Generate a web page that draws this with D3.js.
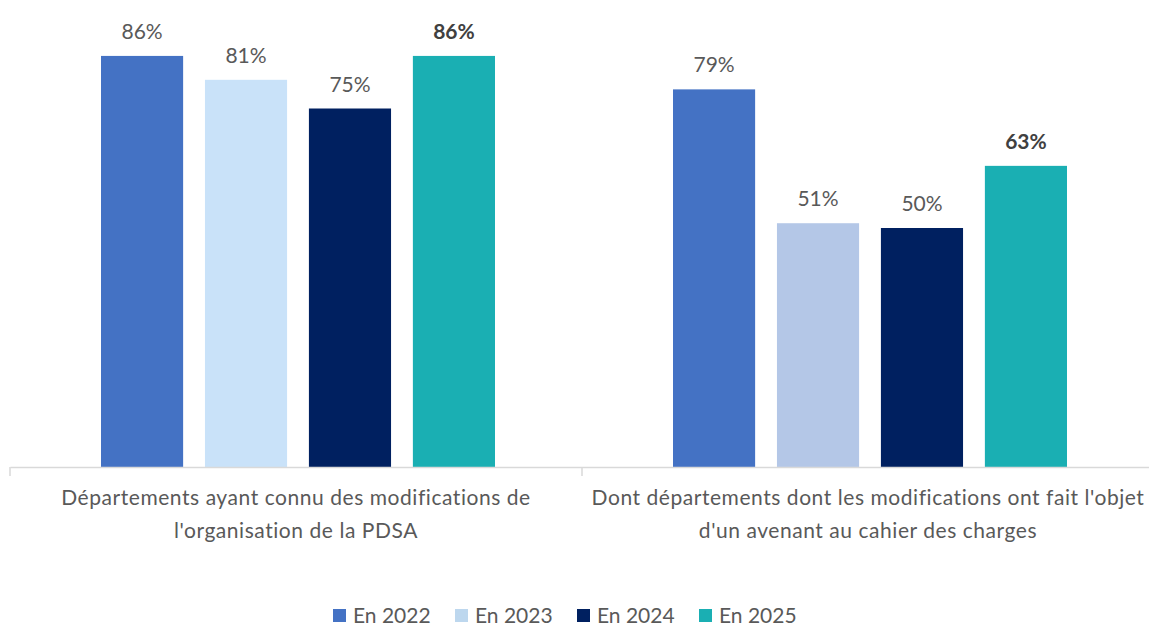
<!DOCTYPE html>
<html lang="fr">
<head>
<meta charset="utf-8">
<script src="https://cdn.jsdelivr.net/npm/d3@7"></script>
<style>
  html, body { margin: 0; padding: 0; background: #fff; }
  svg { display: block; font-family: Lato, "Open Sans", sans-serif; }
</style>
</head>
<body>
<svg id="chart" width="1149" height="625"></svg>
<script>
// Categories (each label split on two lines)
const categories = [
  ["Départements ayant connu des modifications de", "l'organisation de la PDSA"],
  ["Dont départements dont les modifications ont fait l'objet", "d'un avenant au cahier des charges"]
];
const seriesNames = ["En 2022", "En 2023", "En 2024", "En 2025"];
// Share of departments (%) per series, one value per category
const values2022 = [86, 79];
const values2023 = [81, 51];
const values2024 = [75, 50];
const values2025 = [86, 63];

// Styling
const seriesColors = ["#4472C4", "#BDD7EE", "#002060", "#1AAFB3"];
// 2023 bars are filled with a slightly different tint in each group
const barColorOverrides = { "En 2023": ["#C9E2F9", "#B4C7E7"] };
const boldSeries = "En 2025";

const valuesBySeries = [values2022, values2023, values2024, values2025];
const catKeys = categories.map((c, i) => "c" + i);

const rows = [];
catKeys.forEach((k, ci) => {
  seriesNames.forEach((s, si) => {
    rows.push({ cat: k, ci, series: s, si, value: valuesBySeries[si][ci] });
  });
});

const svg = d3.select("#chart");
const baseY = 467;

const x0 = d3.scaleBand().domain(catKeys).range([10, 1154]);
const x1 = d3.scaleBand().domain(seriesNames).range([91, 485]).paddingInner(0.21);
const y = d3.scaleLinear().domain([0, 100]).range([baseY, baseY - 478]);

// Bars
svg.append("g").selectAll("rect").data(rows).join("rect")
  .attr("x", d => x0(d.cat) + x1(d.series))
  .attr("y", d => y(d.value))
  .attr("width", x1.bandwidth())
  .attr("height", d => y(0) - y(d.value))
  .attr("fill", d => barColorOverrides[d.series] ? barColorOverrides[d.series][d.ci] : seriesColors[d.si]);

// Value labels
svg.append("g").selectAll("text").data(rows).join("text")
  .attr("x", d => x0(d.cat) + x1(d.series) + x1.bandwidth() / 2)
  .attr("y", d => y(d.value) - 17)
  .attr("text-anchor", "middle")
  .attr("font-size", 21)
  .attr("font-weight", d => d.series === boldSeries ? 700 : 400)
  .attr("fill", d => d.series === boldSeries ? "#404040" : "#595959")
  .text(d => d.value + "%");

// Category axis
const axis = svg.append("g").attr("transform", `translate(0,${baseY})`)
  .call(d3.axisBottom(x0).tickSize(0).tickFormat(""));
axis.select(".domain").attr("stroke", "#D9D9D9").attr("stroke-width", 1.5);
axis.selectAll(".tick").remove();
const boundaries = x0.domain().map(k => x0(k)).concat([x0.range()[1]]);
axis.selectAll("line.sep").data(boundaries).join("line")
  .attr("class", "sep")
  .attr("x1", d => d).attr("x2", d => d)
  .attr("y1", 0).attr("y2", 9)
  .attr("stroke", "#D9D9D9").attr("stroke-width", 1.5);

// Category labels
const catLabels = svg.append("g").selectAll("text").data(categories).join("text")
  .attr("x", (d, i) => x0(catKeys[i]) + x0.bandwidth() / 2)
  .attr("y", 505)
  .attr("text-anchor", "middle")
  .attr("font-size", 21)
  .attr("letter-spacing", 0.55)
  .attr("fill", "#595959");
catLabels.selectAll("tspan").data(d => d).join("tspan")
  .attr("x", function () { return d3.select(this.parentNode).attr("x"); })
  .attr("dy", (d, i) => i === 0 ? 0 : 33)
  .text(d => d);

// Legend
const legend = svg.append("g").attr("transform", "translate(333,609)");
const item = legend.selectAll("g").data(seriesNames).join("g")
  .attr("transform", (d, i) => `translate(${i * 122},0)`);
item.append("rect").attr("width", 13).attr("height", 13)
  .attr("fill", (d, i) => seriesColors[i]);
item.append("text").attr("x", 20).attr("y", 13.5)
  .attr("font-size", 21).attr("fill", "#595959")
  .text(d => d);
</script>
</body>
</html>
